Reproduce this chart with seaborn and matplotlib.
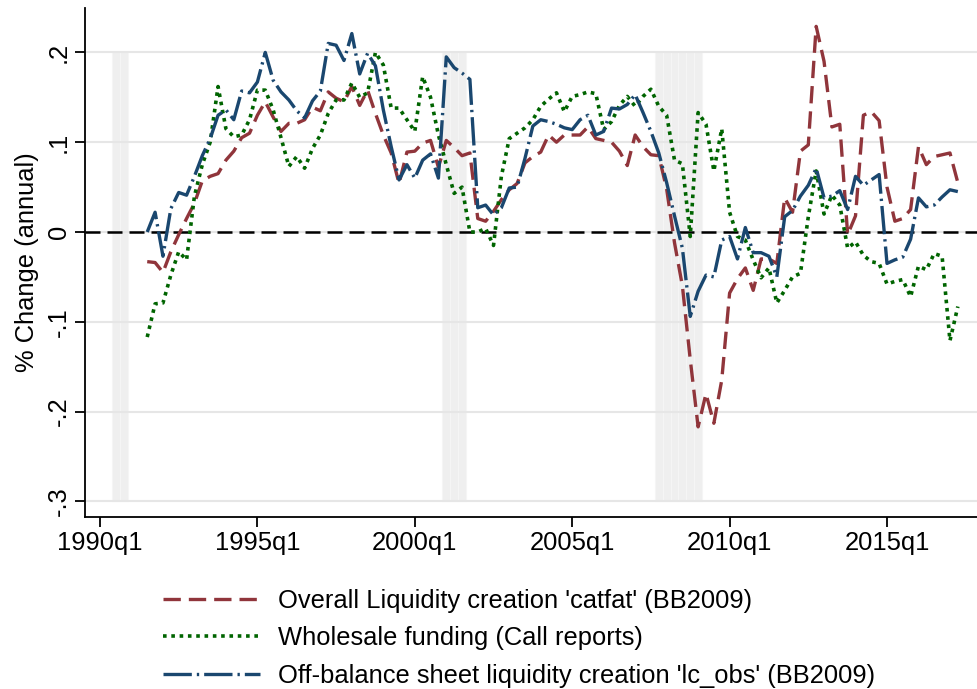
import matplotlib
matplotlib.use("Agg")
import matplotlib.pyplot as plt
import seaborn as sns

sns.set_style("ticks")
plt.rcParams["font.family"] = ["Liberation Sans", "DejaVu Sans"]
plt.rcParams.update({"text.color": "black", "axes.labelcolor": "black",
                     "xtick.color": "black", "ytick.color": "black"})

# quarter index: 0 = 1990q1, series run 1991q3 .. 2017q2
quarters = list(range(6, 110))

catfat = [
    -0.033, -0.034, -0.045, -0.022, -0.003, 0.015, 0.032, 0.057, 0.062, 0.065,
    0.080, 0.090, 0.105, 0.110, 0.130, 0.145, 0.128, 0.112, 0.121, 0.121,
    0.125, 0.139, 0.135, 0.156, 0.149, 0.145, 0.162, 0.141, 0.158, 0.132,
    0.108, 0.088, 0.054, 0.089, 0.090, 0.099, 0.102, 0.072, 0.102, 0.094,
    0.085, 0.088, 0.015, 0.012, 0.023, 0.036, 0.047, 0.054, 0.077, 0.084,
    0.089, 0.108, 0.100, 0.108, 0.108, 0.108, 0.117, 0.104, 0.102, 0.100,
    0.090, 0.074, 0.108, 0.095, 0.086, 0.085, 0.048, -0.012, -0.060, -0.142,
    -0.217, -0.180, -0.213, -0.165, -0.068, -0.052, -0.040, -0.065, -0.030, -0.030,
    -0.035, 0.038, 0.022, 0.090, 0.097, 0.229, 0.190, 0.117, 0.120, -0.003,
    0.018, 0.130, 0.134, 0.124, 0.050, 0.012, 0.015, 0.025, 0.095, 0.075,
    0.084, 0.086, 0.088, 0.055,
]

wholesale = [
    -0.117, -0.080, -0.079, -0.048, -0.022, -0.031, 0.040, 0.075, 0.100, 0.162,
    0.115, 0.106, 0.108, 0.125, 0.158, 0.158, 0.136, 0.105, 0.073, 0.084,
    0.071, 0.093, 0.108, 0.132, 0.147, 0.147, 0.166, 0.150, 0.155, 0.200,
    0.186, 0.138, 0.138, 0.125, 0.112, 0.173, 0.150, 0.108, 0.075, 0.043,
    0.050, 0.000, 0.000, 0.004, -0.015, 0.062, 0.104, 0.110, 0.116, 0.125,
    0.140, 0.148, 0.155, 0.134, 0.151, 0.153, 0.156, 0.154, 0.114, 0.123,
    0.141, 0.151, 0.140, 0.151, 0.159, 0.140, 0.130, 0.080, 0.076, -0.005,
    0.133, 0.120, 0.068, 0.115, 0.022, -0.005, -0.009, -0.031, -0.051, -0.040,
    -0.079, -0.065, -0.050, -0.046, 0.017, 0.068, 0.020, 0.041, 0.030, -0.018,
    -0.011, -0.026, -0.033, -0.035, -0.058, -0.055, -0.053, -0.072, -0.038, -0.042,
    -0.024, -0.027, -0.121, -0.083,
]

lc_obs = [
    0.000, 0.022, -0.027, 0.026, 0.044, 0.041, 0.062, 0.085, 0.104, 0.130,
    0.136, 0.125, 0.157, 0.155, 0.167, 0.200, 0.169, 0.156, 0.147, 0.135,
    0.127, 0.146, 0.157, 0.210, 0.208, 0.191, 0.221, 0.176, 0.199, 0.185,
    0.136, 0.095, 0.058, 0.075, 0.060, 0.080, 0.087, 0.060, 0.195, 0.183,
    0.177, 0.170, 0.027, 0.030, 0.019, 0.027, 0.049, 0.050, 0.082, 0.118,
    0.125, 0.123, 0.120, 0.116, 0.114, 0.125, 0.130, 0.108, 0.112, 0.138,
    0.137, 0.142, 0.153, 0.133, 0.112, 0.088, 0.055, 0.018, -0.018, -0.094,
    -0.066, -0.048, -0.050, -0.009, -0.005, -0.030, 0.005, -0.023, -0.023, -0.027,
    -0.050, 0.017, 0.024, 0.040, 0.052, 0.071, 0.038, 0.040, 0.046, 0.025,
    0.062, 0.052, 0.058, 0.064, -0.035, -0.031, -0.028, -0.008, 0.038, 0.028,
    0.030, 0.039, 0.047, 0.045,
]

# NBER recession quarters (1990q3-q4, 2001q1-q3, 2007q4-2009q1)
recession_quarters = [2, 3, 44, 45, 46, 71, 72, 73, 74, 75, 76]

x_ticks = [0, 20, 40, 60, 80, 100]
x_labels = ["1990q1", "1995q1", "2000q1", "2005q1", "2010q1", "2015q1"]
y_ticks = [-0.3, -0.2, -0.1, 0.0, 0.1, 0.2]
y_labels = ["-.3", "-.2", "-.1", "0", ".1", ".2"]

labels = [
    "Overall Liquidity creation 'catfat' (BB2009)",
    "Wholesale funding (Call reports)",
    "Off-balance sheet liquidity creation 'lc_obs' (BB2009)",
]

FS = 18.4
W, H = 977, 689

fig = plt.figure(figsize=(W / 100, H / 100), dpi=100)
ax = fig.add_axes([85 / W, 1 - 517 / H, 892 / W, 509 / H])

ax.bar(recession_quarters, 0.5, bottom=-0.3, width=1.0, color="#efefef",
       edgecolor="#f5f5f5", linewidth=0.8, zorder=0)
ax.set_yticks(y_ticks)
ax.yaxis.grid(True, color="#e6e6e6", linewidth=1.5)
ax.set_axisbelow(True)
ax.axhline(0, color="black", linewidth=1.8, linestyle=(0, (6, 2.8)), zorder=2)

sns.lineplot(x=quarters, y=catfat, ax=ax, color="#90353b", linewidth=2.4,
             linestyle=(0, (5.2, 2.4)), zorder=3)
l1 = ax.get_lines()[-1]
sns.lineplot(x=quarters, y=wholesale, ax=ax, color="#006400", linewidth=2.6,
             linestyle=(0, (1, 1.3)), zorder=3)
l2 = ax.get_lines()[-1]
sns.lineplot(x=quarters, y=lc_obs, ax=ax, color="#1a476f", linewidth=2.4,
             linestyle=(0, (8.5, 1.5, 0.7, 1.5)), zorder=3)
l3 = ax.get_lines()[-1]

ax.set_xlim((85 - 100) / 7.87, (977 - 100) / 7.87)
ax.set_ylim((232 - 517) / 898, (232 - 8) / 898)

ax.set_xticks(x_ticks)
ax.set_xticklabels(x_labels, fontsize=FS)
ax.set_yticklabels(y_labels, fontsize=FS, rotation=90, va="center")
ax.tick_params(axis="both", direction="out", length=7, width=1.3, color="black", pad=3)
ax.set_ylabel("% Change (annual)", fontsize=FS, labelpad=6)
ax.set_xlabel("")

sns.despine(ax=ax)
for side in ["left", "bottom"]:
    ax.spines[side].set_linewidth(1.3)
    ax.spines[side].set_color("black")

fig.legend([l1, l2, l3], labels, loc="upper left",
           bbox_to_anchor=(163 / W, 1 - 589 / H), frameon=False, fontsize=FS,
           handlelength=3.8, handletextpad=0.7, labelspacing=0.52,
           borderpad=0, borderaxespad=0)

fig.savefig("out.png", dpi=100, facecolor="white")
